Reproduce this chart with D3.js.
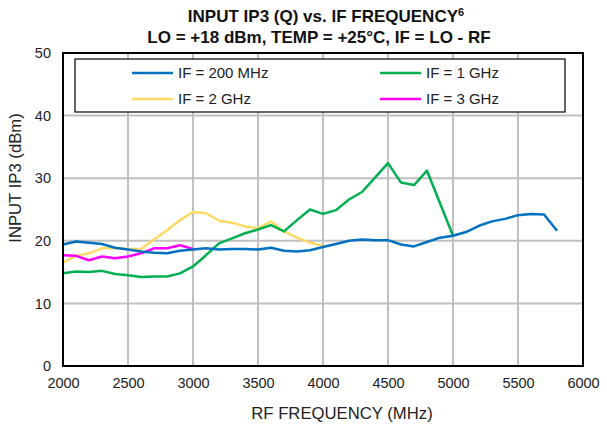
<!DOCTYPE html>
<html><head><meta charset="utf-8">
<script src="https://cdn.jsdelivr.net/npm/d3@7"></script>
<style>body{margin:0;background:#fff}svg{display:block}text{font-family:Arial,"Liberation Sans",sans-serif}</style>
</head><body>
<script>
const freqs = d3.range(2000, 5801, 100);
const if200 = [19.4,19.9,19.7,19.5,18.9,18.6,18.3,18.1,18.0,18.4,18.6,18.8,18.6,18.7,18.7,18.6,18.9,18.4,18.3,18.5,19.0,19.5,20.0,20.2,20.1,20.1,19.4,19.1,19.8,20.5,20.8,21.4,22.4,23.1,23.5,24.1,24.3,24.2,21.6];
const if1g = [14.8,15.1,15.0,15.2,14.7,14.5,14.2,14.3,14.3,14.8,15.9,17.7,19.6,20.4,21.2,21.8,22.5,21.5,23.3,25.0,24.3,24.9,26.6,27.8,30.1,32.4,29.3,28.9,31.2,26.0,20.8];
const if2g = [16.5,17.6,18.0,18.8,18.8,18.7,18.7,20.2,21.7,23.3,24.6,24.4,23.2,22.9,22.3,22.0,23.1,21.5,20.5,19.7,19.2];
const if3g = [17.7,17.6,16.9,17.5,17.2,17.5,18.0,18.8,18.8,19.3,18.7];
const seriesNames = ["IF = 200 MHz","IF = 1 GHz","IF = 2 GHz","IF = 3 GHz"];
const seriesColors = ["#0070C0","#00B050","#FFD966","#FF00FF"];
const xTicks = [2000,2500,3000,3500,4000,4500,5000,5500,6000];
const yTicks = [0,10,20,30,40,50];

const W=607,H=426;
const m={l:63,r:24,t:53,b:60};
const svg=d3.select("body").append("svg").attr("width",W).attr("height",H);
const x=d3.scaleLinear().domain([2000,6000]).range([m.l,W-m.r]);
const y=d3.scaleLinear().domain([0,50]).range([H-m.b,m.t]);
const FF="Arial,'Liberation Sans',sans-serif";

// grid
const g=svg.append("g");
g.selectAll(".vg").data(xTicks.slice(1,-1)).join("line")
 .attr("x1",d=>x(d)).attr("x2",d=>x(d)).attr("y1",y(0)).attr("y2",y(50))
 .attr("stroke","#C0C0C0").attr("stroke-width",2);
g.selectAll(".hg").data(yTicks.slice(1,-1)).join("line")
 .attr("x1",x(2000)).attr("x2",x(6000)).attr("y1",d=>y(d)).attr("y2",d=>y(d))
 .attr("stroke","#C0C0C0").attr("stroke-width",2);

// axes labels
const xa=svg.append("g").attr("transform",`translate(0,${y(0)})`)
 .call(d3.axisBottom(x).tickValues(xTicks).tickSize(0).tickPadding(12).tickFormat(d3.format("d")));
xa.select(".domain").remove();
xa.selectAll("text").attr("font-size",14.5).attr("fill","#222").attr("font-family",FF);
const ya=svg.append("g").attr("transform",`translate(${x(2000)},0)`)
 .call(d3.axisLeft(y).tickValues(yTicks).tickSize(0).tickPadding(12));
ya.select(".domain").remove();
ya.selectAll("text").attr("font-size",14.5).attr("fill","#222").attr("font-family",FF);

// lines
const line=d3.line().x((d,i)=>x(freqs[i])).y(d=>y(d));
const data=[if200,if1g,if2g,if3g];
[2,3,1,0].forEach(k=>{
 svg.append("path").attr("d",line(data[k])).attr("fill","none")
  .attr("stroke",seriesColors[k]).attr("stroke-width",2.5).attr("stroke-linejoin","round");
});

// border
svg.append("rect").attr("x",x(2000)).attr("y",y(50)).attr("width",x(6000)-x(2000)).attr("height",y(0)-y(50))
 .attr("fill","none").attr("stroke","#000").attr("stroke-width",2);

// legend
const lg=svg.append("g");
lg.append("rect").attr("x",75).attr("y",59).attr("width",490).attr("height",53)
 .attr("fill","#fff").attr("stroke","#000").attr("stroke-width",1.2);
const pos=[[132,73],[380,73],[132,99],[380,99]];
seriesNames.forEach((n,i)=>{
 const [px,py]=pos[i];
 lg.append("line").attr("x1",px).attr("x2",px+41).attr("y1",py).attr("y2",py)
  .attr("stroke",seriesColors[i]).attr("stroke-width",2.5);
 lg.append("text").attr("x",px+46).attr("y",py+5).attr("font-size",15).attr("fill","#222").text(n);
});

// titles
const t=svg.append("text").attr("x",326).attr("y",22).attr("text-anchor","middle")
 .attr("font-size",17).attr("font-weight","bold").attr("fill","#111");
t.append("tspan").text("INPUT IP3 (Q) vs. IF FREQUENCY");
t.append("tspan").attr("font-size",11).attr("dy",-6).text("6");
svg.append("text").attr("x",319).attr("y",43).attr("text-anchor","middle")
 .attr("font-size",17).attr("font-weight","bold").attr("fill","#111")
 .text("LO = +18 dBm, TEMP = +25°C, IF = LO - RF");
svg.append("text").attr("x",342).attr("y",419).attr("text-anchor","middle")
 .attr("font-size",16.7).attr("fill","#222").text("RF FREQUENCY (MHz)");
svg.append("text").attr("transform",`translate(21,178) rotate(-90)`)
 .attr("text-anchor","middle").attr("font-size",16.7).attr("fill","#222").text("INPUT IP3 (dBm)");
</script>
</body></html>
